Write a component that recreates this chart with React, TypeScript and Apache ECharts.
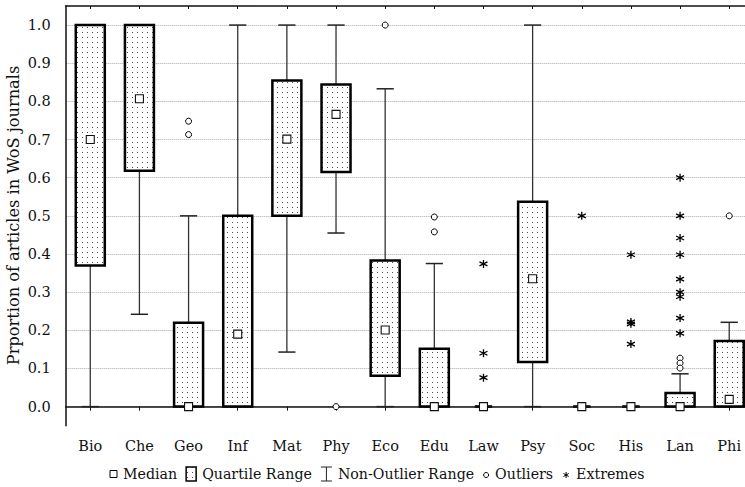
import React, { useEffect, useRef } from 'react';
import * as echarts from 'echarts';

const categories = ['Bio', 'Che', 'Geo', 'Inf', 'Mat', 'Phy', 'Eco', 'Edu', 'Law', 'Psy', 'Soc', 'His', 'Lan', 'Phi'];
const whiskerLow = [0, 0.242, 0, 0, 0.143, 0.455, 0, 0, 0, 0, 0, 0, 0, 0];
const quartile1 = [0.37, 0.618, 0, 0, 0.5, 0.615, 0.081, 0, 0, 0.117, 0, 0, 0, 0];
const medians = [0.7, 0.807, 0, 0.19, 0.701, 0.766, 0.201, 0, 0, 0.335, 0, 0, 0, 0.019];
const quartile3 = [1.0, 1.0, 0.22, 0.5, 0.855, 0.844, 0.383, 0.152, 0, 0.537, 0, 0, 0.036, 0.172];
const whiskerHigh = [1.0, 1.0, 0.5, 1.0, 1.0, 1.0, 0.833, 0.375, 0, 1.0, 0, 0, 0.086, 0.221];

const outlierCats = ['Geo', 'Geo', 'Phy', 'Eco', 'Edu', 'Edu', 'Lan', 'Lan', 'Lan', 'Phi'];
const outlierValues = [0.748, 0.713, 0, 1.0, 0.497, 0.458, 0.127, 0.114, 0.101, 0.5];

const extremeCats = ['Law', 'Law', 'Law', 'Soc', 'His', 'His', 'His', 'His', 'Lan', 'Lan', 'Lan', 'Lan', 'Lan', 'Lan', 'Lan', 'Lan', 'Lan'];
const extremeValues = [0.374, 0.14, 0.076, 0.5, 0.398, 0.222, 0.217, 0.164, 0.6, 0.5, 0.442, 0.398, 0.334, 0.3, 0.288, 0.232, 0.192];

const yTickValues = [0, 0.1, 0.2, 0.3, 0.4, 0.5, 0.6, 0.7, 0.8, 0.9, 1.0];
const yTitle = 'Prportion of articles in WoS journals';
const legendLabels = ['Median', 'Quartile Range', 'Non-Outlier Range', 'Outliers', 'Extremes'];

const FONT = 'DejaVu Serif';

function makePattern() {
  const c = document.createElement('canvas');
  c.width = 5;
  c.height = 5;
  const ctx = c.getContext('2d')!;
  ctx.fillStyle = '#ffffff';
  ctx.fillRect(0, 0, 5, 5);
  ctx.fillStyle = '#4a4a4a';
  ctx.fillRect(2, 2, 1, 1);
  return { image: c, repeat: 'repeat', imageWidth: 5, imageHeight: 5 } as any;
}

function measure(text: string, size: number) {
  const c = document.createElement('canvas');
  const ctx = c.getContext('2d')!;
  ctx.font = `${size}px "${FONT}"`;
  return ctx.measureText(text).width;
}

const STAR = 'path://M5 0 L5 10 M0.67 2.5 L9.33 7.5 M0.67 7.5 L9.33 2.5';

export default function App() {
  const ref = useRef<HTMLDivElement>(null);
  useEffect(() => {
    if (!ref.current) return;
    const chart = echarts.init(ref.current, undefined, { renderer: 'svg' });
    const pattern = makePattern();

    const boxData = categories.map((c, i) => [i, whiskerLow[i], quartile1[i], medians[i], quartile3[i], whiskerHigh[i]]);
    const outlierData = outlierCats.map((c, i) => [categories.indexOf(c), outlierValues[i]]);
    const extremeData = extremeCats.map((c, i) => [categories.indexOf(c), extremeValues[i]]);

    // legend layout: fit text between x=110 and x=645
    const ly = 474;
    const legendStart = 110;
    const legendEnd = 645;
    const gapIconText = 6;
    const gapItem = 9;
    const iconWidths = [7, 10, 11, 6, 8];
    const fixed = iconWidths.reduce((a, b) => a + b, 0) + legendLabels.length * gapIconText + (legendLabels.length - 1) * gapItem;
    const unitText = legendLabels.reduce((a, l) => a + measure(l, 100) / 100, 0);
    const legendFont = Math.min(16, Math.max(12, (legendEnd - legendStart - fixed) / unitText));
    let x = legendStart;
    const legendEls: any[] = [];
    legendLabels.forEach((label, k) => {
      const w = iconWidths[k];
      const cx = x + w / 2;
      if (k === 0) {
        legendEls.push({ type: 'rect', shape: { x: x, y: ly - 3.5, width: 7, height: 7 }, style: { fill: '#fff', stroke: '#000', lineWidth: 1 } });
      } else if (k === 1) {
        legendEls.push({ type: 'rect', shape: { x: x, y: ly - 7, width: 10, height: 14 }, style: { fill: pattern, stroke: '#000', lineWidth: 1.5 } });
      } else if (k === 2) {
        legendEls.push({ type: 'line', shape: { x1: cx, y1: ly - 7, x2: cx, y2: ly + 7 }, style: { stroke: '#222', lineWidth: 1 } });
        legendEls.push({ type: 'line', shape: { x1: x, y1: ly - 7, x2: x + w, y2: ly - 7 }, style: { stroke: '#222', lineWidth: 1 } });
        legendEls.push({ type: 'line', shape: { x1: x, y1: ly + 7, x2: x + w, y2: ly + 7 }, style: { stroke: '#222', lineWidth: 1 } });
      } else if (k === 3) {
        legendEls.push({ type: 'circle', shape: { cx: cx, cy: ly + 1, r: 2.5 }, style: { fill: '#fff', stroke: '#000', lineWidth: 1 } });
      } else {
        const r = 3;
        legendEls.push({ type: 'line', shape: { x1: cx, y1: ly + 1 - r, x2: cx, y2: ly + 1 + r }, style: { stroke: '#000', lineWidth: 1 } });
        legendEls.push({ type: 'line', shape: { x1: cx - r * 0.87, y1: ly + 1 - r / 2, x2: cx + r * 0.87, y2: ly + 1 + r / 2 }, style: { stroke: '#000', lineWidth: 1 } });
        legendEls.push({ type: 'line', shape: { x1: cx - r * 0.87, y1: ly + 1 + r / 2, x2: cx + r * 0.87, y2: ly + 1 - r / 2 }, style: { stroke: '#000', lineWidth: 1 } });
      }
      x += w + gapIconText;
      legendEls.push({
        type: 'text',
        x: x,
        y: ly,
        style: { text: label, fill: '#111', fontSize: legendFont, fontFamily: FONT, align: 'left', verticalAlign: 'middle' },
      });
      x += measure(label, legendFont) + gapItem;
    });

    const option: any = {
      animation: false,
      backgroundColor: '#ffffff',
      textStyle: { fontFamily: FONT },
      grid: { left: 65.7, right: -8.8, top: 6, bottom: 61.3, containLabel: false, outerBoundsMode: 'none' },
      xAxis: [
        {
          type: 'category',
          data: categories,
          boundaryGap: true,
          axisLine: { show: true, lineStyle: { color: '#111', width: 1.5 } },
          axisTick: { show: true, alignWithLabel: true, length: 4, inside: false, lineStyle: { color: '#111', width: 1 } },
          axisLabel: { color: '#111', fontSize: 14.5, fontFamily: FONT, margin: 13, interval: 0 },
          splitLine: { show: false },
        },
        {
          type: 'category',
          data: categories,
          position: 'top',
          boundaryGap: true,
          axisLine: { show: true, lineStyle: { color: '#111', width: 1.5 } },
          axisTick: { show: true, alignWithLabel: true, length: 3, inside: true, lineStyle: { color: '#111', width: 1 } },
          axisLabel: { show: false },
          splitLine: { show: false },
        },
      ],
      yAxis: {
        type: 'value',
        min: -0.05,
        max: 1.05,
        axisLine: { show: true, lineStyle: { color: '#111', width: 1.5 } },
        axisTick: { show: false, customValues: yTickValues },
        axisLabel: {
          color: '#111',
          fontSize: 14.5,
          fontFamily: FONT,
          margin: 15,
          customValues: yTickValues,
          formatter: (v: number) => v.toFixed(1),
        },
        splitLine: { show: true, lineStyle: { color: '#a8a8a8', width: 1, type: [1, 1] } },
      },
      graphic: [
        {
          type: 'text',
          x: 13,
          y: 215.5,
          rotation: Math.PI / 2,
          style: { text: yTitle, fill: '#111', fontSize: 16.2, fontFamily: FONT, align: 'center', verticalAlign: 'middle' },
        },
        ...legendEls,
      ],
      series: [
        {
          type: 'custom',
          clip: false,
          data: boxData,
          encode: { x: 0, y: [1, 2, 3, 4, 5] },
          z: 2,
          renderItem: (params: any, api: any) => {
            const i = api.value(0);
            const lo = api.value(1);
            const q1 = api.value(2);
            const md = api.value(3);
            const q3 = api.value(4);
            const hi = api.value(5);
            const band = api.size([1, 0])[0];
            const boxW = band * 0.59;
            const capW = band * 0.35;
            const cx = api.coord([i, 0])[0];
            const yLo = api.coord([i, lo])[1];
            const yQ1 = api.coord([i, q1])[1];
            const yMd = api.coord([i, md])[1];
            const yQ3 = api.coord([i, q3])[1];
            const yHi = api.coord([i, hi])[1];
            const flat = q3 === q1;
            const degenerate = flat && hi === lo;
            const children: any[] = [];
            if (!degenerate) {
              children.push({ type: 'line', shape: { x1: cx, y1: yLo, x2: cx, y2: yHi }, style: { stroke: '#333', lineWidth: 1.3 } });
            }
            children.push({
              type: 'line',
              shape: { x1: cx - capW / 2, y1: yLo, x2: cx + capW / 2, y2: yLo },
              style: { stroke: degenerate ? '#111' : '#222', lineWidth: degenerate ? 2.5 : 1.5 },
            });
            children.push({
              type: 'line',
              shape: { x1: cx - capW / 2, y1: yHi, x2: cx + capW / 2, y2: yHi },
              style: { stroke: degenerate ? '#111' : '#222', lineWidth: degenerate ? 2.5 : 1.5 },
            });
            if (!flat) {
              children.push({
                type: 'rect',
                shape: { x: cx - boxW / 2, y: yQ3, width: boxW, height: yQ1 - yQ3 },
                style: { fill: pattern, stroke: '#000', lineWidth: 2.5 },
              });
            }
            children.push({
              type: 'rect',
              shape: { x: cx - 4, y: yMd - 4, width: 8, height: 8 },
              style: { fill: '#fff', stroke: '#111', lineWidth: 1.1 },
            });
            return { type: 'group', children };
          },
        },
        {
          type: 'scatter',
          name: 'Outliers',
          data: outlierData,
          symbol: 'circle',
          symbolSize: 6,
          itemStyle: { color: '#fff', borderColor: '#000', borderWidth: 1, opacity: 1 },
          z: 3,
        },
        {
          type: 'scatter',
          name: 'Extremes',
          data: extremeData,
          symbol: STAR,
          symbolSize: 8,
          itemStyle: { color: 'none', borderColor: '#000', borderWidth: 1.3, opacity: 1 },
          z: 3,
        },
      ],
    };
    chart.setOption(option);
    return () => chart.dispose();
  }, []);

  return (
    <div
      ref={ref}
      style={{ position: 'fixed', left: 0, top: 0, width: 745, height: 487, background: '#fff' }}
    />
  );
}
